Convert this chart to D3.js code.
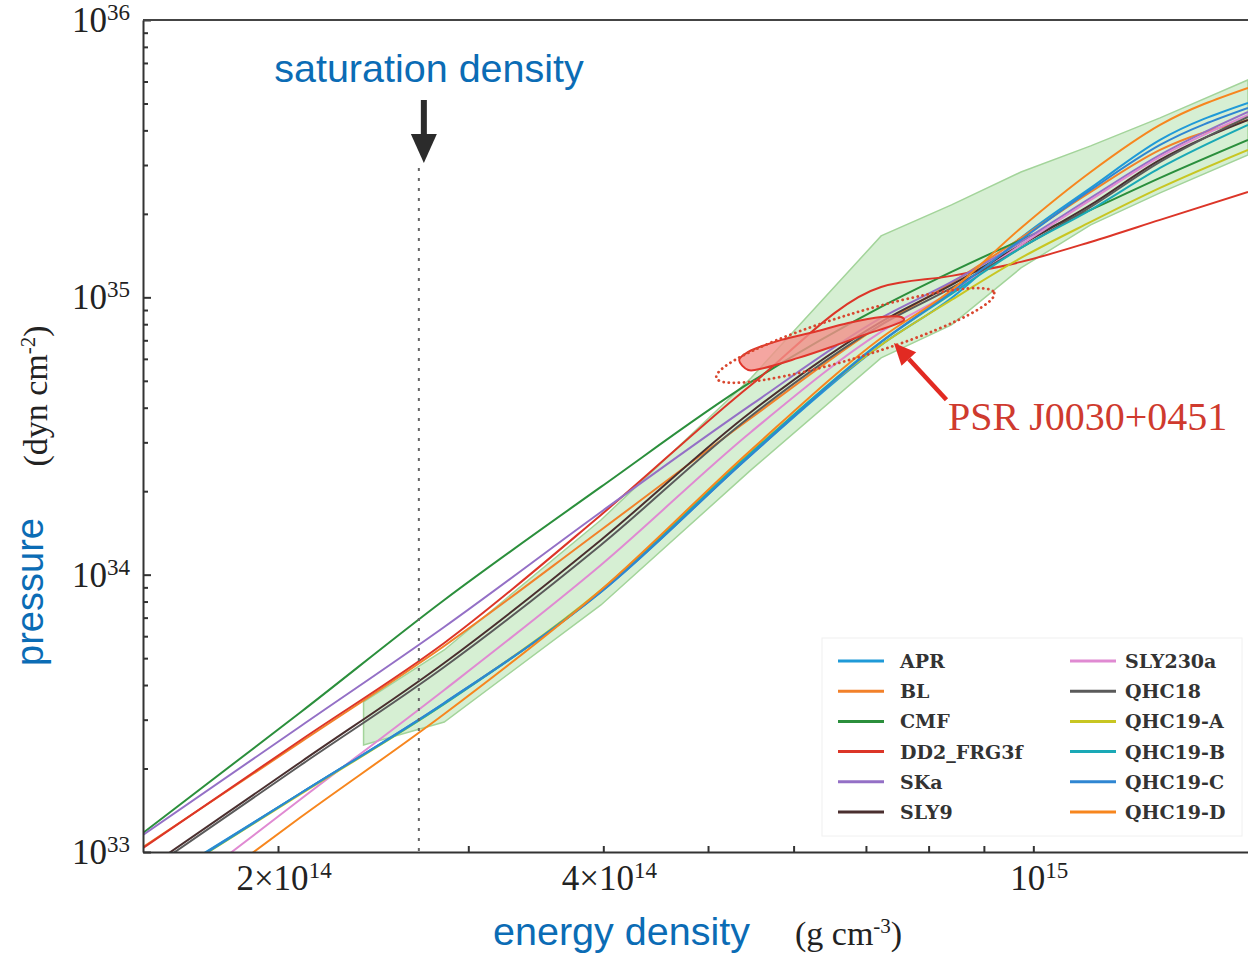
<!DOCTYPE html>
<html>
<head>
<meta charset="utf-8">
<script src="https://cdn.jsdelivr.net/npm/d3@7"></script>
<style>
body { margin: 0; background: #fff; }
svg { display: block; }
</style>
</head>
<body>
<svg id="chart" width="1248" height="955"></svg>
<script>
// energy density in 10^14 g cm^-3, pressure in 10^33 dyn cm^-2
const eosNames = ['APR','BL','CMF','DD2_FRG3f','SKa','SLY9','SLY230a','QHC18','QHC19-A','QHC19-B','QHC19-C','QHC19-D']
const eosColors = ['#1f9ad8','#f2812a','#2b8f3c','#dc3528','#9470c6','#4a2f2f','#e08ad2','#5a5a5a','#c8c622','#1aa9b6','#2f86d2','#f7861e']

const energyGrid = [1.5, 2.1, 2.85, 3.98, 5.48, 7.23, 8.4, 9.74, 11.3, 13.1, 15.8]

const pAPR     = [0.7234, 1.632, 3.446, 8.661, 27.02, 67.34, 99.49, 163.8, 248.0, 369.5, 502.3]
const pBL      = [1.042, 2.493, 5.532, 14.49, 36.74, 79.53, 112.7, 163.8, 239.9, 340.1, 436.2]
const pCMF     = [1.171, 3.198, 8.105, 20.72, 49.54, 92.35, 123.5, 161.1, 206.7, 269.6, 369.5]
const pDD2     = [1.034, 2.535, 5.671, 16.42, 48.32, 109.0, 119.5, 134.2, 158.4, 190.2, 239.9]
const pSKa     = [1.152, 2.847, 6.477, 16.83, 40.93, 84.27, 113.6, 158.4, 228.3, 326.2, 466.2]
const pSLY9    = [0.854, 2.112, 4.804, 13.34, 38.61, 81.53, 110.9, 154.5, 215.4, 313.0, 436.2]
const pSLY230a = [0.5685, 1.553, 3.839, 10.84, 32.71, 75.02, 104.6, 154.5, 224.5, 320.9, 454.8]
const pQHC18   = [0.833, 2.059, 4.646, 12.80, 37.36, 79.53, 108.1, 150.7, 211.8, 307.8, 447.3]
const pQHC19A  = [0.7113, 1.619, 3.418, 8.806, 27.70, 67.34, 97.86, 138.7, 187.0, 248.0, 340.1]
const pQHC19B  = [0.7113, 1.632, 3.418, 8.734, 27.47, 69.06, 102.9, 150.7, 206.7, 292.8, 418.5]
const pQHC19C  = [0.7174, 1.632, 3.446, 8.661, 27.02, 69.06, 104.6, 161.1, 243.9, 354.5, 481.9]
const pQHC19D  = [0.5061, 1.337, 3.146, 8.806, 28.17, 71.38, 106.3, 177.9, 283.1, 418.5, 569.0]

// green band
const bandEnergy = [2.4, 2.85, 3.98, 5.48, 7.23, 8.4, 9.74, 11.3, 13.1, 15.8]
const bandUpper  = [3.475, 5.352, 15.75, 51.21, 166.5, 215.4, 283.1, 351.6, 443.6, 608.1]
const bandLower  = [2.432, 2.943, 7.776, 23.86, 60.47, 79.53, 127.6, 182.4, 238.0, 326.2]

// PSR J0030+0451 region
const psrEnergy   = [5.343, 5.447, 5.845, 6.270, 6.740, 7.23, 7.546, 7.593, 7.433, 6.974, 6.500, 6.060, 5.636, 5.447]
const psrPressure = [59.46, 63.55, 70.22, 75.02, 80.85, 84.96, 84.96, 82.89, 79.53, 73.20, 66.24, 60.47, 55.65, 54.71]
const ellipseEnergy   = [5.09, 9.2]
const ellipsePressure = [51.2, 103.7]
const arrowEnergy   = [8.31, 7.43]
const arrowPressure = [42.7, 68.5]

const satDensity = 2.7

const yTickLabels = [[1,'33'],[10,'34'],[100,'35'],[1000,'36']]
const xTickLabels = [[2,'2×10','14'],[4,'4×10','14'],[10,'10','15']]

const pressures = [pAPR,pBL,pCMF,pDD2,pSKa,pSLY9,pSLY230a,pQHC18,pQHC19A,pQHC19B,pQHC19C,pQHC19D]
const series = eosNames.map((n,i) => ({name:n, color:eosColors[i], values: energyGrid.map((e,j) => [e, pressures[i][j]])}))

const svg = d3.select('#chart')
const mLeft = 143, mRight = 1248, mTop = 20, mBottom = 852

const x = d3.scaleLog().domain([1.5, 15.8]).range([mLeft, mRight])
const y = d3.scaleLog().domain([1, 1000]).range([mBottom, mTop])

svg.append('defs').append('clipPath').attr('id','plotclip')
  .append('rect').attr('x',mLeft).attr('y',mTop).attr('width',mRight-mLeft).attr('height',mBottom-mTop)

const plot = svg.append('g').attr('clip-path','url(#plotclip)')

// band
const band = bandEnergy.map((e,i) => [e, bandLower[i], bandUpper[i]])
plot.append('path')
  .datum(band)
  .attr('d', d3.area().x(d => x(d[0])).y0(d => y(d[1])).y1(d => y(d[2])))
  .attr('fill','#d6efd3')
  .attr('stroke','#a3d49a')
  .attr('stroke-width',1.5)

// EOS lines
const line = d3.line().x(d => x(d[0])).y(d => y(d[1])).curve(d3.curveMonotoneX)
plot.selectAll('path.eos')
  .data(series)
  .enter()
  .append('path')
  .attr('class','eos')
  .attr('d', d => line(d.values))
  .attr('fill','none')
  .attr('stroke', d => d.color)
  .attr('stroke-width',2)

// saturation density
const xs = x(satDensity)
svg.append('line')
  .attr('x1',xs).attr('x2',xs).attr('y1',168).attr('y2',mBottom)
  .attr('stroke','#666').attr('stroke-width',2).attr('stroke-dasharray','3,7')
svg.append('rect').attr('x',xs+2).attr('y',100).attr('width',6).attr('height',38).attr('fill','#2b2b2b')
svg.append('path')
  .attr('d', `M${xs-8},134 L${xs+18},134 L${xs+5},163 Z`)
  .attr('fill','#2b2b2b')

// PSR region
const psr = psrEnergy.map((e,i) => [e, psrPressure[i]])
plot.append('path')
  .datum(psr)
  .attr('d', d3.line().x(d => x(d[0])).y(d => y(d[1])).curve(d3.curveCatmullRomClosed.alpha(0.5)))
  .attr('fill','#f3908a').attr('fill-opacity',0.8)
  .attr('stroke','#e0352b').attr('stroke-width',2)

const ex1 = x(ellipseEnergy[0]), ey1 = y(ellipsePressure[0])
const ex2 = x(ellipseEnergy[1]), ey2 = y(ellipsePressure[1])
const erx = Math.hypot(ex2-ex1, ey2-ey1)/2
const eang = Math.atan2(ey2-ey1, ex2-ex1)*180/Math.PI
svg.append('ellipse')
  .attr('cx',0).attr('cy',0).attr('rx',erx).attr('ry',erx*0.15)
  .attr('transform',`translate(${(ex1+ex2)/2},${(ey1+ey2)/2}) rotate(${eang})`)
  .attr('fill','none').attr('stroke','#d9472f').attr('stroke-width',2.8)
  .attr('stroke-dasharray','0.1,5').attr('stroke-linecap','round')

// red arrow
const ax1 = x(arrowEnergy[0]), ay1 = y(arrowPressure[0])
const ax2 = x(arrowEnergy[1]), ay2 = y(arrowPressure[1])
const aang = Math.atan2(ay2-ay1, ax2-ax1)
const hl = 22, hw = 10
const bx = ax2 - hl*Math.cos(aang), by = ay2 - hl*Math.sin(aang)
svg.append('line')
  .attr('x1',ax1).attr('y1',ay1).attr('x2',bx).attr('y2',by)
  .attr('stroke','#e22a22').attr('stroke-width',4.5)
svg.append('path')
  .attr('d', `M${ax2},${ay2} L${bx + hw*Math.sin(aang)},${by - hw*Math.cos(aang)} L${bx - hw*Math.sin(aang)},${by + hw*Math.cos(aang)} Z`)
  .attr('fill','#e22a22')

svg.append('text')
  .attr('x',948).attr('y',430)
  .attr('font-family','"Liberation Serif", serif').attr('font-size',40)
  .attr('fill','#cf3a2e')
  .text('PSR J0030+0451')

// legend
const lg = svg.append('g')
lg.append('rect').attr('x',822).attr('y',638).attr('width',420).attr('height',198)
  .attr('fill','#fff').attr('stroke','#f0f0f0').attr('stroke-width',1)
const items = lg.selectAll('g.item')
  .data(series)
  .enter()
  .append('g')
  .attr('class','item')
  .attr('transform', (d,i) => `translate(${i < 6 ? 838 : 1070},${661 + (i % 6) * 30.2})`)
items.append('line').attr('x1',0).attr('x2',46).attr('y1',0).attr('y2',0)
  .attr('stroke', d => d.color).attr('stroke-width',3)
items.append('text')
  .attr('x', (d,i) => i < 6 ? 62 : 55)
  .attr('y', 7)
  .attr('font-family','"DejaVu Serif", serif').attr('font-weight','bold').attr('font-size',19)
  .attr('fill','#333')
  .text(d => d.name)

// axes
const yMinor = []
for (let k = 0; k < 3; k++) for (let m = 1; m < 10; m++) yMinor.push(m * Math.pow(10,k))
yMinor.push(1000)
const gy = svg.append('g').attr('transform',`translate(${mLeft},0)`)
  .call(d3.axisLeft(y).tickValues(yMinor).tickSize(-5).tickSizeOuter(0).tickFormat(''))
gy.selectAll('.tick line').attr('x2', d => [1,10,100,1000].includes(d) ? 8 : 5)
gy.selectAll('line, path').attr('stroke','#333').attr('stroke-width',2)

const gx = svg.append('g').attr('transform',`translate(0,${mBottom})`)
  .call(d3.axisBottom(x).tickValues([2,3,4,5,6,7,8,9,10]).tickSize(-6).tickSizeOuter(0).tickFormat(''))
gx.selectAll('line, path').attr('stroke','#333').attr('stroke-width',2)

svg.append('line').attr('x1',mLeft).attr('x2',mRight).attr('y1',mTop).attr('y2',mTop)
  .attr('stroke','#444').attr('stroke-width',2)

const serif = '"Liberation Serif", "Times New Roman", serif'
yTickLabels.forEach(([v,exp]) => {
  const t = svg.append('text').attr('x',130).attr('y',y(v)+12)
    .attr('text-anchor','end').attr('font-family',serif).attr('font-size',35).attr('fill','#222')
  t.append('tspan').text('10')
  t.append('tspan').attr('font-size',23).attr('dy',-12).text(exp)
})
xTickLabels.forEach(([v,base,exp]) => {
  const t = svg.append('text').attr('x',x(v)+6).attr('y',890)
    .attr('text-anchor','middle').attr('font-family',serif).attr('font-size',35).attr('fill','#222')
  t.append('tspan').text(base)
  t.append('tspan').attr('font-size',23).attr('dy',-12).text(exp)
})

// titles
const blue = '#0b6cb5'
const sans = '"Liberation Sans", Arial, Helvetica, sans-serif'
svg.append('text').attr('x',429).attr('y',82).attr('text-anchor','middle')
  .attr('font-family',sans).attr('font-size',39.5).attr('fill',blue).text('saturation density')
svg.append('text').attr('transform','translate(43,592) rotate(-90)').attr('text-anchor','middle')
  .attr('font-family',sans).attr('font-size',38).attr('fill',blue).text('pressure')
svg.append('text').attr('x',493).attr('y',945)
  .attr('font-family',sans).attr('font-size',39.5).attr('fill',blue).text('energy density')

const yu = svg.append('text').attr('transform','translate(47,396) rotate(-90)').attr('text-anchor','middle')
  .attr('font-family',serif).attr('font-size',34).attr('fill','#222')
yu.append('tspan').text('(dyn cm')
yu.append('tspan').attr('font-size',21).attr('dy',-12).text('-2')
yu.append('tspan').attr('dy',12).text(')')

const xu = svg.append('text').attr('x',795).attr('y',945)
  .attr('font-family',serif).attr('font-size',34).attr('fill','#222')
xu.append('tspan').text('(g cm')
xu.append('tspan').attr('font-size',21).attr('dy',-12).text('-3')
xu.append('tspan').attr('dy',12).text(')')
</script>
</body>
</html>
